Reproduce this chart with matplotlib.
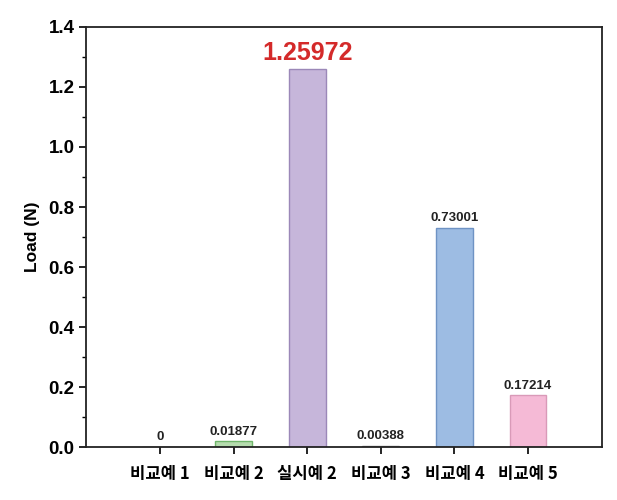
import matplotlib
matplotlib.use("Agg")
import matplotlib.pyplot as plt
from matplotlib.ticker import MultipleLocator

categories = ["비교예 1", "비교예 2", "실시예 2", "비교예 3", "비교예 4", "비교예 5"]
values = [0, 0.01877, 1.25972, 0.00388, 0.73001, 0.17214]
labels = ["0", "0.01877", "1.25972", "0.00388", "0.73001", "0.17214"]
fills = ["#ffffff", "#b5dcae", "#c6b6da", "#ffffff", "#9dbce3", "#f5bad6"]
edges = ["#888888", "#6fb56a", "#9b88b8", "#888888", "#6f93c4", "#d99ab8"]

plt.rcParams['font.family'] = ['Liberation Sans', 'Noto Sans CJK KR', 'DejaVu Sans']

fig = plt.figure(figsize=(6.17, 5.0), dpi=100)
ax = fig.add_axes([0.140, 0.106, 0.835, 0.840])

x = list(range(1, len(categories) + 1))
ax.bar(x, values, width=0.5, color=fills, edgecolor=edges, linewidth=1.0)

for xi, v, lab in zip(x, values, labels):
    if lab == "1.25972":
        ax.text(xi, v + 0.012, lab, ha='center', va='bottom', fontsize=18,
                fontweight='bold', color='#d42a2a')
    else:
        ax.text(xi, v + 0.012, lab, ha='center', va='bottom', fontsize=9.5,
                fontweight='bold', color='#222222')

ax.set_xlim(0, 7)
ax.set_ylim(0, 1.4)
ax.set_xticks(x)
ax.set_xticklabels(categories, fontsize=12, fontweight='bold',
                   family=['Noto Sans CJK KR', 'Liberation Sans'])
ax.yaxis.set_major_locator(MultipleLocator(0.2))
ax.yaxis.set_minor_locator(MultipleLocator(0.1))
ax.set_yticklabels([f"{t:.1f}" for t in ax.get_yticks()], fontsize=13.5, fontweight='bold')
ax.set_ylabel("Load (N)", fontsize=12.5, fontweight='bold', labelpad=6)

ax.tick_params(axis='both', which='major', direction='out', length=5, width=1.2)
ax.tick_params(axis='y', which='minor', direction='out', length=3, width=1.0)
ax.tick_params(axis='x', pad=8)
for s in ax.spines.values():
    s.set_linewidth(1.3)
    s.set_color('#222222')

fig.savefig("out.png", dpi=100)
